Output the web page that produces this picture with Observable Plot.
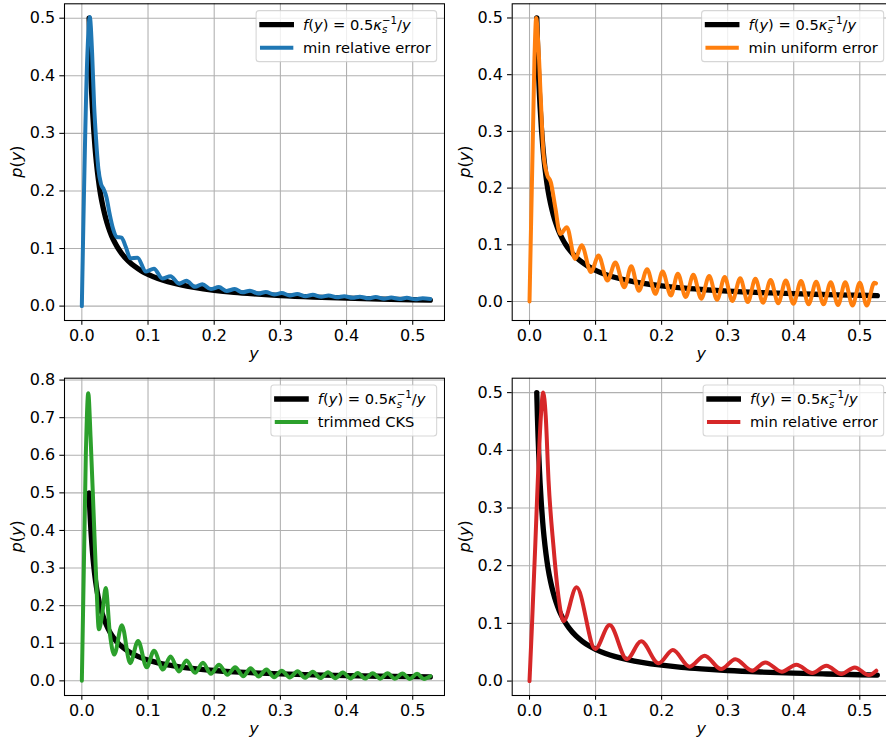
<!DOCTYPE html>
<html><head><meta charset="utf-8">
<script src="https://cdn.jsdelivr.net/npm/d3@7"></script>
<script src="https://cdn.jsdelivr.net/npm/@observablehq/plot@0.6"></script>
<style>
body{margin:0;background:#fff;overflow:hidden}
#fig{position:relative;width:886px;height:744px;overflow:hidden;background:#fff}
</style></head><body><div id="fig"></div>
<script>
// ---- tick values ----
const xTicks = [0, 0.1, 0.2, 0.3, 0.4, 0.5];
const yTicksA = [0, 0.1, 0.2, 0.3, 0.4, 0.5];
const yTicksC = [0, 0.1, 0.2, 0.3, 0.4, 0.5, 0.6, 0.7, 0.8];

// ---- target f(y) = 0.5 kappa^-1 / y (black) ----
const fX = [0.011, 0.012, 0.013, 0.014, 0.015, 0.016, 0.018, 0.020, 0.022, 0.025, 0.028, 0.032, 0.036, 0.040, 0.045, 0.050, 0.055, 0.060, 0.070, 0.080, 0.090, 0.100, 0.115, 0.130, 0.150, 0.170, 0.200, 0.230, 0.260, 0.300, 0.350, 0.400, 0.450, 0.500, 0.5265];
const fY = [0.500, 0.458, 0.423, 0.393, 0.367, 0.344, 0.306, 0.275, 0.250, 0.220, 0.196, 0.172, 0.153, 0.1375, 0.122, 0.110, 0.100, 0.0917, 0.0786, 0.0688, 0.0611, 0.055, 0.0478, 0.0423, 0.0367, 0.0324, 0.0275, 0.0239, 0.0212, 0.0183, 0.0157, 0.01375, 0.0122, 0.011, 0.01045];

// ---- min relative error (blue) ----
const blueX = [0, 0.0085, 0.012, 0.0155, 0.0185, 0.0215, 0.025, 0.029, 0.033, 0.037, 0.042, 0.047, 0.053, 0.060, 0.066, 0.0735, 0.084, 0.097, 0.109, 0.1216, 0.134, 0.147, 0.158, 0.171, 0.182, 0.195, 0.207, 0.219, 0.231, 0.2427, 0.254, 0.267, 0.278, 0.2906, 0.302, 0.3143, 0.3254, 0.338, 0.349, 0.3617, 0.3728, 0.3854, 0.3965, 0.409, 0.420, 0.4328, 0.444, 0.4565, 0.4675, 0.480, 0.491, 0.504, 0.515, 0.5265];
const blueY = [0, 0.44, 0.502, 0.44, 0.35, 0.29, 0.238, 0.212, 0.203, 0.19, 0.16, 0.135, 0.12, 0.119, 0.104, 0.083, 0.084, 0.060, 0.065, 0.048, 0.052, 0.039, 0.044, 0.0335, 0.038, 0.0295, 0.033, 0.0264, 0.0295, 0.0240, 0.0268, 0.0218, 0.0245, 0.0201, 0.0226, 0.0186, 0.0210, 0.0173, 0.0196, 0.0162, 0.0184, 0.0152, 0.0173, 0.0143, 0.0164, 0.0136, 0.0156, 0.0129, 0.0149, 0.0123, 0.0143, 0.0117, 0.0137, 0.0125];

// ---- min uniform error (orange) ----
const orangeX = [0, 0.0075, 0.0101, 0.0135, 0.0172, 0.0212, 0.0263, 0.0324, 0.039, 0.0465, 0.0566, 0.069, 0.079, 0.093, 0.1045, 0.118, 0.130, 0.1435, 0.154, 0.1656, 0.178, 0.1905, 0.2015, 0.214, 0.2245, 0.2365, 0.248, 0.260, 0.272, 0.284, 0.2955, 0.307, 0.319, 0.3305, 0.342, 0.3535, 0.365, 0.3765, 0.388, 0.3995, 0.411, 0.4225, 0.434, 0.445, 0.456, 0.467, 0.478, 0.489, 0.500, 0.5105, 0.522, 0.5245];
const orangeY = [0, 0.43, 0.5, 0.45, 0.354, 0.26, 0.225, 0.21, 0.166, 0.119, 0.131, 0.075, 0.099, 0.052, 0.081, 0.037, 0.069, 0.025, 0.062, 0.019, 0.057, 0.0135, 0.053, 0.0105, 0.049, 0.008, 0.047, 0.005, 0.045, 0.003, 0.043, 0.001, 0.041, -0.001, 0.040, -0.002, 0.038, -0.003, 0.037, -0.004, 0.036, -0.005, 0.035, -0.005, 0.034, -0.006, 0.034, -0.007, 0.033, -0.007, 0.033, 0.032];

// ---- trimmed CKS (green) ----
const greenX = [0, 0.006, 0.0097, 0.0132, 0.0182, 0.0222, 0.0257, 0.0308, 0.0361, 0.0424, 0.049, 0.0605, 0.073, 0.085, 0.098, 0.109, 0.1226, 0.134, 0.1468, 0.158, 0.171, 0.183, 0.195, 0.2074, 0.220, 0.2316, 0.244, 0.255, 0.267, 0.279, 0.2906, 0.302, 0.314, 0.326, 0.337, 0.349, 0.3605, 0.372, 0.383, 0.3945, 0.406, 0.417, 0.428, 0.4395, 0.451, 0.462, 0.473, 0.4845, 0.4955, 0.5065, 0.517, 0.5265];
const greenY = [0, 0.60, 0.765, 0.648, 0.426, 0.249, 0.137, 0.178, 0.247, 0.125, 0.07, 0.148, 0.047, 0.106, 0.036, 0.08, 0.03, 0.0647, 0.0248, 0.054, 0.0213, 0.048, 0.0186, 0.0426, 0.016, 0.0364, 0.0124, 0.0337, 0.0115, 0.030, 0.0098, 0.027, 0.009, 0.0255, 0.008, 0.024, 0.0075, 0.023, 0.007, 0.022, 0.0065, 0.021, 0.006, 0.0205, 0.0058, 0.020, 0.0055, 0.0195, 0.0052, 0.019, 0.005, 0.0125];

// ---- min relative error (red) ----
const redX = [0, 0.0036, 0.0086, 0.013, 0.017, 0.0207, 0.0245, 0.0288, 0.0364, 0.044, 0.0515, 0.0712, 0.0995, 0.1212, 0.1475, 0.169, 0.1955, 0.217, 0.2424, 0.265, 0.290, 0.3116, 0.337, 0.357, 0.382, 0.404, 0.428, 0.4495, 0.472, 0.4924, 0.5136, 0.525];
const redY = [0, 0.093, 0.232, 0.36, 0.455, 0.5, 0.46, 0.348, 0.232, 0.145, 0.104, 0.1625, 0.0556, 0.097, 0.038, 0.069, 0.0307, 0.0538, 0.025, 0.044, 0.0208, 0.038, 0.018, 0.0324, 0.0162, 0.0284, 0.0139, 0.0266, 0.0122, 0.0237, 0.0104, 0.018];

const seriesLabels = ["min relative error", "min uniform error", "trimmed CKS", "min relative error"];
const seriesColors = ["#1f77b4", "#ff7f0e", "#2ca02c", "#d62728"];

const panels = [
  {left: 0,   top: 0,   w: 445, h: 365, mL: 64,   mR: 1, mT: 3.3,  mB: 45, yd: [-0.025, 0.525],  yt: yTicksA, xs: blueX,   ys: blueY},
  {left: 446, top: 0,   w: 446, h: 365, mL: 65.7, mR: 1, mT: 3.3,  mB: 45, yd: [-0.0335, 0.525], yt: yTicksA, xs: orangeX, ys: orangeY},
  {left: 0,   top: 365, w: 445, h: 379, mL: 64,   mR: 1, mT: 12.7, mB: 49, yd: [-0.039, 0.805],  yt: yTicksC, xs: greenX,  ys: greenY},
  {left: 446, top: 365, w: 446, h: 379, mL: 65.7, mR: 1, mT: 12.7, mB: 49, yd: [-0.025, 0.525],  yt: yTicksA, xs: redX,    ys: redY}
];
const xDomain = [-0.0262, 0.548];
const FONT = "DejaVu Sans";
const fig = document.getElementById("fig");
const fData = fX.map((x, i) => ({x, y: fY[i]}));

panels.forEach((p, k) => {
  const data = p.xs.map((x, i) => ({x, y: p.ys[i]}));
  const svg = Plot.plot({
    width: p.w, height: p.h,
    marginLeft: p.mL, marginRight: p.mR, marginTop: p.mT, marginBottom: p.mB,
    x: {domain: xDomain},
    y: {domain: p.yd},
    style: {fontFamily: FONT, fontSize: "16px", background: "transparent", color: "black"},
    marks: [
      Plot.gridX({ticks: xTicks, stroke: "#b0b0b0", strokeOpacity: 1, strokeWidth: 1.07}),
      Plot.gridY({ticks: p.yt, stroke: "#b0b0b0", strokeOpacity: 1, strokeWidth: 1.07}),
      Plot.line(fData, {x: "x", y: "y", stroke: "black", strokeWidth: 5.33, curve: "monotone-x"}),
      Plot.line(data, {x: "x", y: "y", stroke: seriesColors[k], strokeWidth: 4, curve: "monotone-x"}),
      Plot.frame({stroke: "black", strokeWidth: 1.07}),
      Plot.axisX({ticks: xTicks, tickSize: 4.67, tickPadding: 4.67, tickFormat: d => d.toFixed(1), fontSize: 16, label: null, strokeWidth: 1.07}),
      Plot.axisY({ticks: p.yt, tickSize: 4.67, tickPadding: 4.67, tickFormat: d => d.toFixed(1), fontSize: 16, label: null, strokeWidth: 1.07})
    ]
  });
  svg.style.position = "absolute";
  svg.style.left = p.left + "px";
  svg.style.top = p.top + "px";
  svg.style.maxWidth = "none";
  fig.appendChild(svg);

  const s = d3.select(svg);
  const fL = p.mL, fR = p.w - p.mR, fT = p.mT, fB = p.h - p.mB;
  // x label
  s.append("text").attr("x", (fL + fR) / 2).attr("y", fB + 38.7)
    .attr("text-anchor", "middle").attr("font-family", FONT).attr("font-size", 16)
    .attr("font-style", "italic").attr("fill", "black").text("y");
  // y label p(y)
  const yl = s.append("text").attr("transform", `translate(${fL - 41.7},${(fT + fB) / 2}) rotate(-90)`)
    .attr("text-anchor", "middle").attr("font-family", FONT).attr("font-size", 16).attr("fill", "black");
  yl.append("tspan").attr("font-style", "italic").text("p");
  yl.append("tspan").text("(");
  yl.append("tspan").attr("font-style", "italic").text("y");
  yl.append("tspan").text(")");

  // legend
  const fs = 14.67;
  const g = s.append("g").attr("font-family", FONT).attr("font-size", fs).attr("fill", "black")
    .attr("text-anchor", "start").attr("font-variant", "normal");
  const box = g.append("rect");
  const t1 = g.append("text");
  t1.append("tspan").attr("font-style", "italic").text("f");
  t1.append("tspan").text("(");
  t1.append("tspan").attr("font-style", "italic").text("y");
  t1.append("tspan").text(") = 0.5");
  t1.append("tspan").attr("font-style", "italic").text("κ");
  const sub = t1.append("tspan").attr("font-style", "italic").attr("font-size", fs * 0.7).attr("dy", 3.2).text("s");
  const sup = t1.append("tspan").attr("font-size", fs * 0.7).text("−1");
  const tail1 = t1.append("tspan").text("/");
  t1.append("tspan").attr("font-style", "italic").text("y");
  const subW = sub.node().getComputedTextLength();
  sup.attr("dx", -subW).attr("dy", -9.6);
  tail1.attr("dy", 6.4);
  const t2 = g.append("text").text(seriesLabels[k]);
  const w = Math.max(t1.node().getComputedTextLength(), t2.node().getComputedTextLength());
  const pad = 0.4 * fs, hl = 2 * fs, htp = 0.8 * fs, bap = 0.5 * fs;
  const boxW = pad + hl + htp + w + pad;
  const L = fR - bap - boxW;
  const T = fT + bap;
  box.attr("x", L).attr("y", T).attr("width", boxW).attr("height", 51).attr("rx", 3)
    .attr("fill", "white").attr("fill-opacity", 0.8).attr("stroke", "#cccccc").attr("stroke-opacity", 0.8).attr("stroke-width", 1.07);
  const r1 = T + 14, r2 = T + 37;
  g.append("line").attr("x1", L + pad).attr("x2", L + pad + hl).attr("y1", r1).attr("y2", r1)
    .attr("stroke", "black").attr("stroke-width", 5.33).attr("stroke-linecap", "square");
  g.append("line").attr("x1", L + pad).attr("x2", L + pad + hl).attr("y1", r2).attr("y2", r2)
    .attr("stroke", seriesColors[k]).attr("stroke-width", 4).attr("stroke-linecap", "square");
  t1.attr("x", L + pad + hl + htp).attr("y", r1 + 5.3);
  t2.attr("x", L + pad + hl + htp).attr("y", r2 + 5.3);
});
</script>
</body></html>
